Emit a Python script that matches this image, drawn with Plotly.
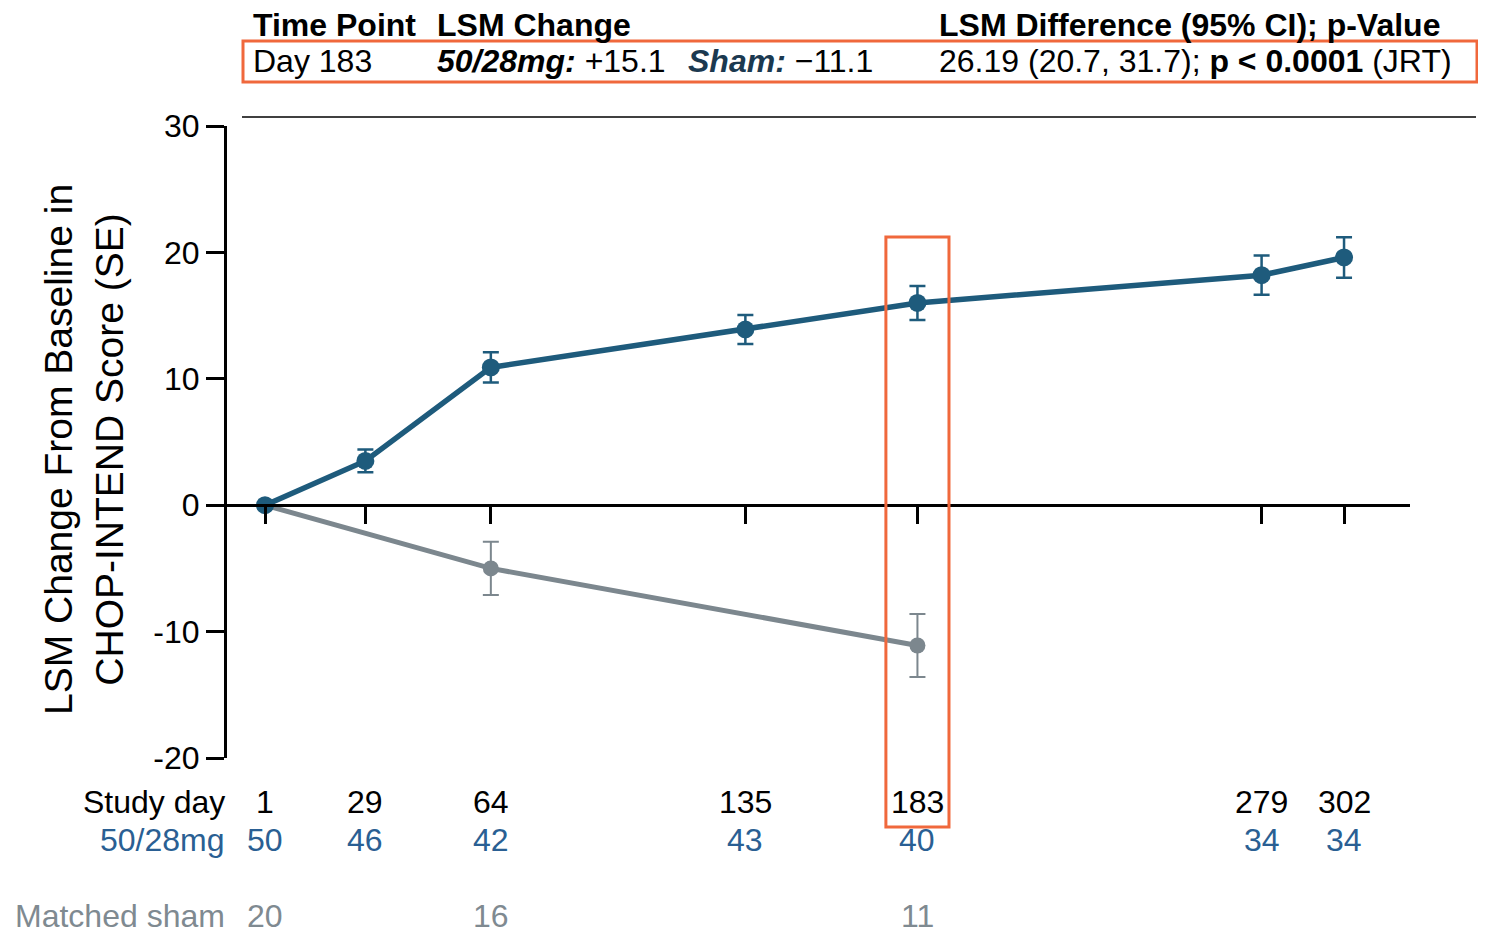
import plotly.graph_objects as go

# ---- data ----
days = [1, 29, 64, 135, 183, 279, 302]
trt_mean = [0.0, 3.5, 10.9, 13.9, 16.0, 18.2, 19.6]
trt_se = [0.0, 0.9, 1.2, 1.15, 1.35, 1.55, 1.6]
sham_days = [1, 64, 183]
sham_mean = [0.0, -5.0, -11.1]
sham_se = [0.0, 2.1, 2.5]
n_trt = [50, 46, 42, 43, 40, 34, 34]
n_sham = [20, 16, 11]
y_ticks = [-20, -10, 0, 10, 20, 30]
y_ticktext = ["-20", "-10", "0", "10", "20", "30"]
highlight_day = 183

BLUE = "#1e5b7c"
GRAY = "#7c878e"
NBLUE = "#2a5f93"
NGRAY = "#7f8a91"
ORANGE = "#f0683c"
FONT = "Liberation Sans, Arial, sans-serif"

OFF = 8  # page body margin
W, H = 1478, 928
L, T = 219, 118
pw, ph = 1183, 632
R, B = W - L - pw, H - T - ph

def px_x(p):
    return (p - OFF - L) / pw

def px_y(p):
    return (H - B - (p - OFF)) / ph

fig = go.Figure()
fig.add_trace(go.Scatter(
    x=sham_days, y=sham_mean, mode="lines+markers",
    line=dict(color=GRAY, width=5), marker=dict(color=GRAY, size=16),
    error_y=dict(type="data", array=sham_se, color=GRAY, thickness=2, width=8),
    showlegend=False, cliponaxis=False))
fig.add_trace(go.Scatter(
    x=days, y=trt_mean, mode="lines+markers",
    line=dict(color=BLUE, width=5.5), marker=dict(color=BLUE, size=18),
    error_y=dict(type="data", array=trt_se, color=BLUE, thickness=2.5, width=8),
    showlegend=False, cliponaxis=False))

fig.update_layout(
    width=W, height=H, margin=dict(l=L, r=R, t=T, b=B),
    plot_bgcolor="white", paper_bgcolor="white",
    font=dict(family=FONT, size=32, color="black"),
    xaxis=dict(range=[-9.6, 320.4], anchor="free", position=0.4,
               showline=True, linecolor="black", linewidth=3,
               tickvals=days, ticks="outside", ticklen=17, tickwidth=3,
               tickcolor="black", showticklabels=False, showgrid=False,
               zeroline=False),
    yaxis=dict(range=[-20, 30], showline=True, linecolor="black", linewidth=3,
               tickvals=y_ticks, ticktext=y_ticktext, ticks="outside",
               ticklen=18, tickwidth=3, tickcolor="black", showgrid=False,
               zeroline=False, tickfont=dict(size=32)),
)

ann = []
# y-axis title
ann.append(dict(text="LSM Change From Baseline in<br>CHOP-INTEND Score (SE)",
                xref="paper", yref="paper", x=px_x(84), y=px_y(450),
                xanchor="center", yanchor="middle", textangle=-90,
                showarrow=False, font=dict(size=39)))
# bottom rows
row_y = {"day": px_y(802), "trt": px_y(840), "sham": px_y(916)}
ann.append(dict(text="Study day", xref="paper", yref="paper", x=0, y=row_y["day"],
                xanchor="right", yanchor="middle", showarrow=False))
ann.append(dict(text="50/28mg", xref="paper", yref="paper", x=0, y=row_y["trt"],
                xanchor="right", yanchor="middle", showarrow=False,
                font=dict(color=NBLUE)))
ann.append(dict(text="Matched sham", xref="paper", yref="paper", x=0, y=row_y["sham"],
                xanchor="right", yanchor="middle", showarrow=False,
                font=dict(color=NGRAY)))
for d, n in zip(days, n_trt):
    ann.append(dict(text=str(d), xref="x", yref="paper", x=d, y=row_y["day"],
                    xanchor="center", yanchor="middle", showarrow=False))
    ann.append(dict(text=str(n), xref="x", yref="paper", x=d, y=row_y["trt"],
                    xanchor="center", yanchor="middle", showarrow=False,
                    font=dict(color=NBLUE)))
for d, n in zip(sham_days, n_sham):
    ann.append(dict(text=str(n), xref="x", yref="paper", x=d, y=row_y["sham"],
                    xanchor="center", yanchor="middle", showarrow=False,
                    font=dict(color=NGRAY)))

# header table
hy, ry = px_y(25), px_y(61)
def txt(s, xp, yp, color="black"):
    ann.append(dict(text=s, xref="paper", yref="paper", x=px_x(xp), y=yp,
                    xanchor="left", yanchor="middle", showarrow=False,
                    font=dict(color=color)))
txt("<b>Time Point</b>", 251, hy)
txt("<b>LSM Change</b>", 435, hy)
txt("<b>LSM Difference (95% CI); p-Value</b>", 937, hy)
txt("Day 183", 251, ry)
txt("<b><i>50/28mg:</i></b> +15.1", 435, ry)
txt("<b><i><span style='color:#1b3950'>Sham:</span></i></b> \u221211.1", 686, ry)
txt("26.19 (20.7, 31.7); <b>p &lt; 0.0001</b> (JRT)", 937, ry)

fig.update_layout(annotations=ann)

shapes = [
    dict(type="line", xref="paper", yref="paper", x0=px_x(242), x1=px_x(1476),
         y0=px_y(117), y1=px_y(117), line=dict(color="black", width=1.5)),
    dict(type="rect", xref="paper", yref="paper", x0=px_x(243), x1=px_x(1477),
         y0=px_y(82), y1=px_y(41), line=dict(color=ORANGE, width=3)),
    dict(type="rect", xref="x", yref="paper", x0=highlight_day - 8.8,
         x1=highlight_day + 8.8, y0=px_y(827), y1=px_y(237),
         line=dict(color=ORANGE, width=3)),
]
fig.update_layout(shapes=shapes)

fig.write_html("out.html")
